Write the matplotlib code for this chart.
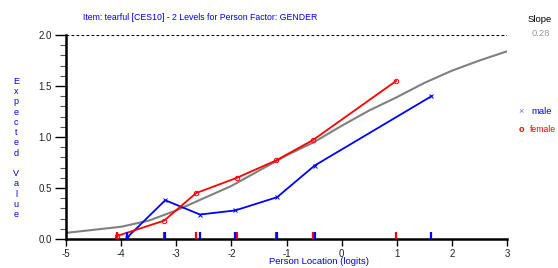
import matplotlib.pyplot as plt

# curva esperada (ICC)
icc_x = [-5, -4.5, -4, -3.5, -3, -2.5, -2, -1.5, -1, -0.5, 0, 0.5, 1, 1.5, 2, 2.5, 3]
icc_y = [0.06, 0.09, 0.12, 0.18, 0.28, 0.40, 0.52, 0.67, 0.82, 0.95, 1.11, 1.26, 1.39, 1.53, 1.65, 1.75, 1.84]

# medias por intervalo de clase
male_x = [-3.9, -3.2, -2.57, -1.93, -1.17, -0.49, 1.63]
male_y = [0.01, 0.38, 0.24, 0.28, 0.41, 0.72, 1.40]
female_x = [-4.07, -3.22, -2.64, -1.90, -1.19, -0.52, 0.99]
female_y = [0.03, 0.18, 0.45, 0.60, 0.77, 0.97, 1.55]

title = "Item: tearful [CES10] - 2 Levels for Person Factor: GENDER"
slope = "0.28"
x_ticks = [-5, -4, -3, -2, -1, 0, 1, 2, 3]
y_ticks = [0.0, 0.5, 1.0, 1.5, 2.0]

plt.rcParams['font.family'] = ['Liberation Sans', 'DejaVu Sans']

fig = plt.figure(figsize=(5.58, 2.68), dpi=100)
ax = fig.add_axes([66 / 558, 29 / 268, 441 / 558, 204 / 268])

ax.plot(icc_x, icc_y, color="#808080", lw=1.5, zorder=2)
ax.plot(male_x, male_y, color="#0000ff", lw=1.3, marker="x", ms=3.5, mew=0.7, zorder=3)
ax.plot(female_x, female_y, color="#ff0000", lw=1.3, marker="o", ms=3.2, mew=0.7,
        mfc="none", zorder=3)

# marcas sobre el eje x
ax.vlines(female_x, 0, 0.07, color="#ff0000", lw=1.6, zorder=4)
ax.vlines(male_x, 0, 0.07, color="#0000ff", lw=1.6, zorder=4)

# linea discontinua en el maximo
ax.axhline(2.0, color="black", lw=0.8, ls=(0, (2.5, 2)), zorder=1)

ax.set_xlim(-5, 3)
ax.set_ylim(0, 2.0)
ax.set_xticks(x_ticks)
ax.set_xticklabels([str(t) for t in x_ticks])
ax.set_yticks(y_ticks)
ax.set_yticklabels([f"{t:.1f}" for t in y_ticks])
ax.set_yticks([i / 10 for i in range(21)], minor=True)

for s in ["top", "right"]:
    ax.spines[s].set_visible(False)
ax.spines["left"].set_linewidth(1.8)
ax.spines["bottom"].set_linewidth(1.8)
ax.tick_params(axis="both", which="major", labelsize=7, colors="black", labelcolor="#222222")
ax.tick_params(axis="y", which="major", length=8, width=1.0, pad=2)
ax.tick_params(axis="x", which="major", length=5, width=1.0, pad=2)
ax.tick_params(axis="y", which="minor", length=4, width=0.8, color="#555555")

fig.text(200 / 558, 1 - 18 / 268, title, color="#0000ff", fontsize=6.3, ha="center", va="center")
fig.text(319 / 558, 1 - 262 / 268, "Person Location (logits)", color="#0000ff", fontsize=6.8,
         ha="center", va="center")
fig.text(16 / 558, 1 - 148 / 268, "\n".join(list("Expected Value")), color="#0000ff",
         fontsize=6.5, ha="center", va="center", linespacing=1.18)

fig.text(540 / 558, 1 - 20 / 268, "Slope", color="black", fontsize=6.8, ha="center", va="center")
fig.text(541 / 558, 1 - 34 / 268, slope, color="#999999", fontsize=6.8, ha="center", va="center")

fig.text(521 / 558, 1 - 112 / 268, "\u00d7", color="#6666ff", fontsize=6.5, ha="center", va="center")
fig.text(531 / 558, 1 - 112 / 268, "male", color="#0000ff", fontsize=6.8, ha="left", va="center")
fig.text(521 / 558, 1 - 129 / 268, "o", color="#ff0000", fontsize=6.5, ha="center", va="center",
         fontweight="bold")
# algo mas pequeño para que quepa entero junto al borde derecho
fig.text(530 / 558, 1 - 129 / 268, "female", color="#ff0000", fontsize=6.2, ha="left", va="center")

fig.savefig("out.png", dpi=100)
